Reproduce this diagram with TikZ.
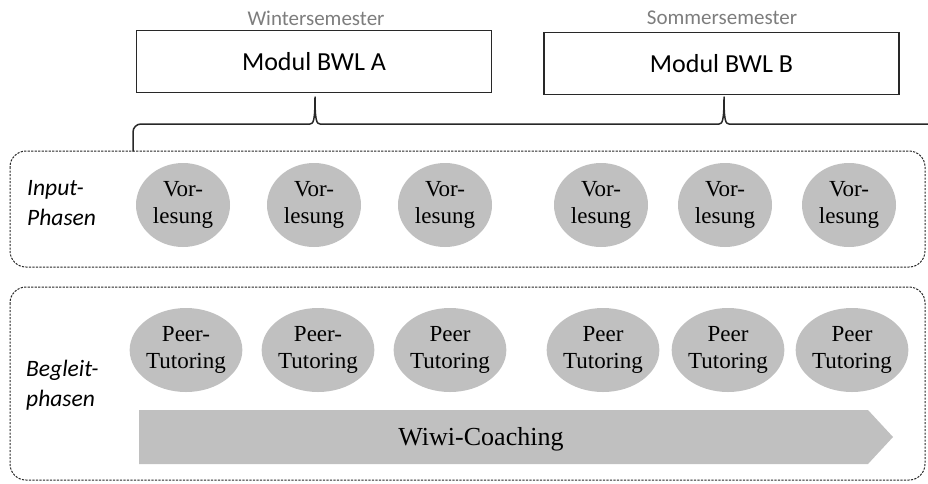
\documentclass[tikz,border=0pt]{standalone}
\usepackage{fontspec}
\setmainfont{Liberation Serif}
\newfontfamily\calib{Carlito}
\usetikzlibrary{shapes.geometric}
\definecolor{circgray}{RGB}{192,192,192}
\definecolor{labgray}{RGB}{125,125,125}
\definecolor{linedark}{RGB}{40,40,40}
\begin{document}
\begin{tikzpicture}[x=1pt,y=-1pt,
  modbox/.style={draw=linedark,line width=1.1pt,fill=white,minimum width=355pt,minimum height=62pt,inner sep=0pt,font=\calib\fontsize{26}{30}\selectfont},
  semlabel/.style={text=labgray,inner sep=0pt,font=\calib\fontsize{21}{24}\selectfont},
  phasebox/.style={draw=black!85,line width=1pt,dash pattern=on 2.2pt off 1.3pt,rounded corners=16pt},
  phaselabel/.style={anchor=west,align=left,inner sep=0pt,font=\calib\itshape\fontsize{23.5}{30}\selectfont},
  circ/.style={ellipse,fill=circgray,minimum width=94pt,minimum height=84pt,inner sep=0pt,align=center,font=\fontsize{23}{27}\selectfont},
  bracket/.style={draw=linedark,line width=1.5pt,line cap=round,line join=round}]
\useasboundingbox (0,0) rectangle (928,483);

% semester labels and module boxes
\node[semlabel] (ws) at (316,18) {Wintersemester};
\node[semlabel] (ss) at (722,18) {Sommersemester};
\node[modbox] (ma) at (314,61.5) {Modul BWL A};
\node[modbox] (mb) at (721.5,63.5) {Modul BWL B};

% phase boxes
\draw[phasebox] (10,151) rectangle (925,267);
\draw[phasebox] (10,287) rectangle (925,480);

% bracket
\coordinate (bl) at (133,151);
\coordinate (ca) at (315,97);
\coordinate (cb) at (724,97);
\coordinate (br) at (934,124);
\draw[bracket] (bl) -- (133,132) arc[start angle=180,end angle=270,radius=8]
  -- (310,124) .. controls (313.5,124) and (315,120) .. (ca)
  .. controls (315,120) and (316.5,124) .. (320,124)
  -- (719,124) .. controls (722.5,124) and (724,120) .. (cb)
  .. controls (724,120) and (725.5,124) .. (729,124)
  -- (br);

% labels
\node[phaselabel] (inp) at (27,203) {Input-\\Phasen};
\node[phaselabel] (beg) at (26,385) {Begleit-\\phasen};

% lecture circles
\node[circ] (v1) at (183,205) {Vor-\\lesung};
\node[circ] (v2) at (314,205) {Vor-\\lesung};
\node[circ] (v3) at (445,205) {Vor-\\lesung};
\node[circ] (v4) at (601,205) {Vor-\\lesung};
\node[circ] (v5) at (725,205) {Vor-\\lesung};
\node[circ] (v6) at (849,205) {Vor-\\lesung};

% tutoring circles
\node[circ] (p1) at (186,350) {Peer-\\Tutoring};
\node[circ] (p2) at (318,350) {Peer-\\Tutoring};
\node[circ] (p3) at (450,350) {Peer\\Tutoring};
\node[circ] (p4) at (603,350) {Peer\\Tutoring};
\node[circ] (p5) at (728,350) {Peer\\Tutoring};
\node[circ] (p6) at (852,350) {Peer\\Tutoring};

% coaching arrow
\fill[circgray] (139,410) -- (868,410) -- (893,437) -- (868,464) -- (139,464) -- cycle;
\node[inner sep=0pt,font=\fontsize{26}{30}\selectfont] (wc) at (481,439) {Wiwi-Coaching};
\end{tikzpicture}
\end{document}
